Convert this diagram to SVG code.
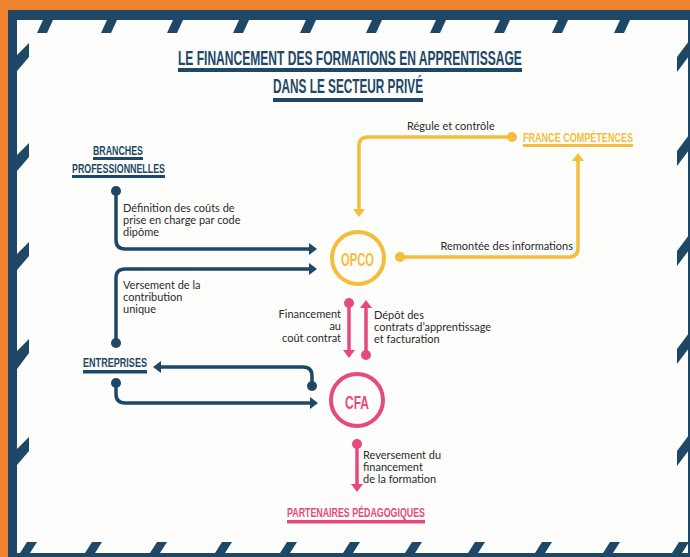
<svg xmlns="http://www.w3.org/2000/svg" width="690" height="557" viewBox="0 0 690 557">
<defs>
<style>
.navy{fill:#1E4866}
.yel{fill:#F5BD3C}
.pink{fill:#E6497F}
.h{font-family:"Liberation Sans",Arial,sans-serif;font-weight:bold;}
.t{font-family:Lato,"Noto Sans",sans-serif;font-size:11px;fill:#2b2b2b}
.cn{fill:none;stroke-width:3.5;stroke-linecap:butt}
.cnn{stroke:#1E4866}
.cny{stroke:#F5BD3C}
.cnp{stroke:#E6497F}
</style>
<marker id="an" markerUnits="userSpaceOnUse" markerWidth="9" markerHeight="12" refX="0" refY="6" orient="auto"><path d="M0,0 L8,6 L0,12 z" fill="#1E4866"/></marker>
<marker id="ay" markerUnits="userSpaceOnUse" markerWidth="9" markerHeight="12" refX="0" refY="6" orient="auto"><path d="M0,0 L8,6 L0,12 z" fill="#F5BD3C"/></marker>
<marker id="ap" markerUnits="userSpaceOnUse" markerWidth="9" markerHeight="12" refX="0" refY="6" orient="auto"><path d="M0,0 L8,6 L0,12 z" fill="#E6497F"/></marker>
</defs>

<g id="frame">
<rect x="0" y="0" width="690" height="557" fill="#EF832F"/>
<rect x="8" y="10" width="682" height="547" class="navy"/>
<rect x="17" y="20" width="671" height="533" fill="#FDFDFC"/>
<g class="navy">
<polygon points="37,33 47,33 53,20 43,20"/>
<polygon points="101,33 111,33 117,20 107,20"/>
<polygon points="167,33 177,33 183,20 173,20"/>
<polygon points="233,33 243,33 249,20 239,20"/>
<polygon points="300,33 310,33 316,20 306,20"/>
<polygon points="366,33 376,33 382,20 372,20"/>
<polygon points="430,33 440,33 446,20 436,20"/>
<polygon points="494,33 504,33 510,20 500,20"/>
<polygon points="552,33 562,33 568,20 558,20"/>
<polygon points="614,33 624,33 630,20 620,20"/>
<polygon points="17,55 29,43 29,57 17,71"/>
<polygon points="17,155 29,143 29,157 17,171"/>
<polygon points="17,254 29,242 29,256 17,270"/>
<polygon points="17,351 29,339 29,353 17,369"/>
<polygon points="17,449 29,437 29,451 17,465"/>
<polygon points="677,57 689,41 689,56 677,72"/>
<polygon points="677,151 689,135 689,150 677,166"/>
<polygon points="677,251 689,235 689,250 677,266"/>
<polygon points="677,349 689,333 689,348 677,364"/>
<polygon points="677,451 689,435 689,450 677,466"/>
<polygon points="20,553 30,553 37,542 27,542"/>
<polygon points="85,553 95,553 102,542 92,542"/>
<polygon points="150,553 160,553 167,542 157,542"/>
<polygon points="215,553 225,553 232,542 222,542"/>
<polygon points="280,553 290,553 297,542 287,542"/>
<polygon points="343,553 353,553 360,542 350,542"/>
<polygon points="405,553 415,553 422,542 412,542"/>
<polygon points="468,553 478,553 485,542 475,542"/>
<polygon points="535,553 545,553 552,542 542,542"/>
<polygon points="603,553 613,553 620,542 610,542"/>
<polygon points="672,553 682,553 689,542 679,542"/>
</g>
</g>

<g id="title">
<text class="h navy" transform="translate(178,65) scale(0.6,1)" x="0" y="0" font-size="20" textLength="573" lengthAdjust="spacingAndGlyphs">LE FINANCEMENT DES FORMATIONS EN APPRENTISSAGE</text>
<rect class="navy" x="178" y="68" width="344" height="4"/>
<text class="h navy" transform="translate(273,93) scale(0.6,1)" x="0" y="0" font-size="20" textLength="250" lengthAdjust="spacingAndGlyphs">DANS LE SECTEUR PRIVÉ</text>
<rect class="navy" x="273" y="98" width="150" height="4"/>
</g>

<g id="connectors">
<path class="cn cnn" d="M116,191 V240 Q116,249 125,249 H309" marker-end="url(#an)"/>
<path class="cn cnn" d="M116,343 V278 Q116,269 125,269 H309" marker-end="url(#an)"/>
<path class="cn cnn" d="M312,386 V376 Q312,367 303,367 H161" marker-end="url(#an)"/>
<path class="cn cnn" d="M116,383 V394 Q116,403 125,403 H310" marker-end="url(#an)"/>
<path class="cn cny" d="M400,257 H569 Q578,257 578,248 V161" marker-end="url(#ay)"/>
<path class="cn cny" d="M512,137 H368 Q359,137 359,146 V209" marker-end="url(#ay)"/>
<path class="cn cnp" d="M349,303 V350" marker-end="url(#ap)"/>
<path class="cn cnp" d="M366,355 V308" marker-end="url(#ap)"/>
<path class="cn cnp" d="M357,444 V484" marker-end="url(#ap)"/>
<circle class="navy" cx="116" cy="191" r="5"/>
<circle class="navy" cx="116" cy="343" r="5"/>
<circle class="navy" cx="312" cy="386" r="5"/>
<circle class="navy" cx="116" cy="383" r="5"/>
<circle class="yel" cx="400" cy="257" r="5"/>
<circle class="yel" cx="512" cy="137" r="5"/>
<circle class="pink" cx="349" cy="303" r="5"/>
<circle class="pink" cx="366" cy="355" r="5"/>
<circle class="pink" cx="357" cy="444" r="5"/>
<text class="t" x="123" y="212">Définition des coûts de</text>
<text class="t" x="123" y="224">prise en charge par code</text>
<text class="t" x="123" y="236">dipôme</text>
<text class="t" x="123" y="289">Versement de la</text>
<text class="t" x="123" y="301">contribution</text>
<text class="t" x="123" y="313">unique</text>
<text class="t" x="407" y="130">Régule et contrôle</text>
<text class="t" x="573" y="250" text-anchor="end">Remontée des informations</text>
<text class="t" x="341" y="318" text-anchor="end">Financement</text>
<text class="t" x="341" y="330" text-anchor="end">au</text>
<text class="t" x="341" y="342" text-anchor="end">coût contrat</text>
<text class="t" x="374" y="319">Dépôt des</text>
<text class="t" x="374" y="331">contrats d’apprentissage</text>
<text class="t" x="374" y="343">et facturation</text>
<text class="t" x="363" y="459">Reversement du</text>
<text class="t" x="363" y="471">financement</text>
<text class="t" x="363" y="483">de la formation</text>
</g>

<g id="branches">
<text class="h navy" x="93" y="155" font-size="13" textLength="50" lengthAdjust="spacingAndGlyphs">BRANCHES</text>
<rect class="navy" x="93" y="157" width="50" height="3"/>
<text class="h navy" x="72" y="173" font-size="13" textLength="93" lengthAdjust="spacingAndGlyphs">PROFESSIONNELLES</text>
<rect class="navy" x="72" y="175" width="93" height="3"/>
</g>

<g id="france-competences">
<text class="h yel" x="523" y="142" font-size="13" textLength="110" lengthAdjust="spacingAndGlyphs">FRANCE COMPÉTENCES</text>
<rect class="yel" x="523" y="144" width="110" height="3"/>
</g>

<g id="opco">
<circle cx="358" cy="258" r="26" fill="none" stroke="#F5BD3C" stroke-width="4"/>
<text class="h yel" x="341" y="266" font-size="19" textLength="33" lengthAdjust="spacingAndGlyphs">OPCO</text>
</g>

<g id="entreprises">
<text class="h navy" x="83" y="367" font-size="13" textLength="64" lengthAdjust="spacingAndGlyphs">ENTREPRISES</text>
<rect class="navy" x="83" y="370" width="64" height="3.5"/>
</g>

<g id="cfa">
<circle cx="357" cy="400" r="26" fill="none" stroke="#E6497F" stroke-width="4"/>
<text class="h pink" x="345" y="409" font-size="19" textLength="24" lengthAdjust="spacingAndGlyphs">CFA</text>
</g>

<g id="partenaires">
<text class="h pink" x="287" y="517" font-size="13" textLength="138" lengthAdjust="spacingAndGlyphs">PARTENAIRES PÉDAGOGIQUES</text>
<rect class="pink" x="287" y="520" width="138" height="3.5"/>
</g>
</svg>
